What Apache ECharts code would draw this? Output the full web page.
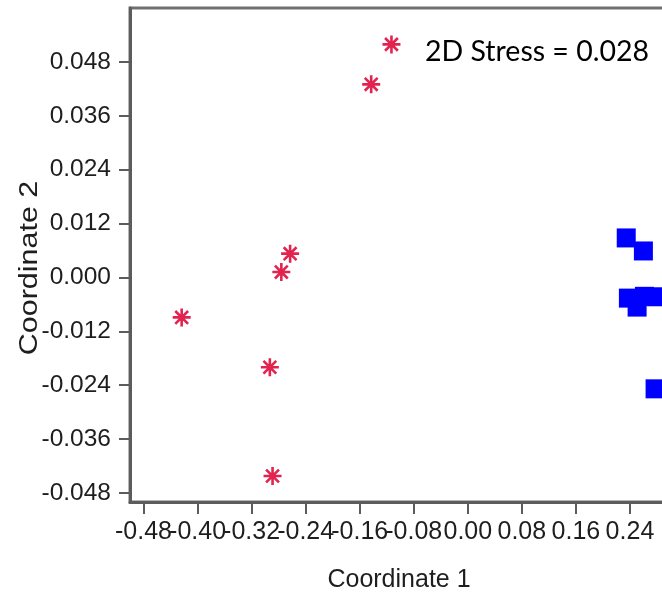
<!DOCTYPE html>
<html>
<head>
<meta charset="utf-8">
<script src="https://cdn.jsdelivr.net/npm/echarts@6/dist/echarts.min.js"></script>
<style>html,body{margin:0;padding:0;background:#fff;}#c{width:662px;height:596px;}</style>
</head>
<body>
<div id="c"></div>
<script>
// Group 1 (red asterisks)
const starX = [-0.113, -0.143, -0.263, -0.276, -0.4235, -0.293, -0.289];
const starY = [0.0519, 0.0430, 0.0053, 0.0012, -0.0089, -0.0200, -0.0442];
// Group 2 (blue squares)
const squareX = [0.2345, 0.2599, 0.2377, 0.2506, 0.2614, 0.279, 0.2772];
const squareY = [0.0088, 0.0059, -0.0046, -0.0066, -0.0042, -0.0043, -0.0248];
// Tick values
const xTicks = [-0.48, -0.40, -0.32, -0.24, -0.16, -0.08, 0.00, 0.08, 0.16, 0.24];
const yTicks = [-0.048, -0.036, -0.024, -0.012, 0.000, 0.012, 0.024, 0.036, 0.048];
const xTitle = 'Coordinate 1';
const yTitle = 'Coordinate 2';
const stressText = '2D Stress = 0.028';

// the overlapping x labels are split over two stacked axes so none is hidden
const xTicksA = xTicks.filter((v, i) => i % 2 === 0);
const xTicksB = xTicks.filter((v, i) => i % 2 === 1);

const asterisk = 'path://M1 8.7 L19 8.7 L19 11.3 L1 11.3 Z M8.7 1 L11.3 1 L11.3 19 L8.7 19 Z M4.52 2.68 L17.32 15.48 L15.48 17.32 L2.68 4.52 Z M15.48 2.68 L17.32 4.52 L4.52 17.32 L2.68 15.48 Z';

const chart = echarts.init(document.getElementById('c'), null, {renderer: 'canvas'});
const axisColor = '#5c5c5c';
const labelFont = 'Liberation Sans, Arial, Helvetica, sans-serif';

function xAxisOf(ticks, withLine) {
  return {
    type: 'value', min: -0.5, max: 0.32, position: 'bottom', offset: 0,
    splitLine: {show: false},
    axisLine: {show: withLine, onZero: false, lineStyle: {color: axisColor, width: 3}},
    axisTick: {show: true, length: 12, customValues: ticks, lineStyle: {color: axisColor, width: 2}},
    axisLabel: {customValues: ticks, hideOverlap: false, showMinLabel: true, showMaxLabel: true, margin: 18, fontSize: 25,
      color: '#1e1e1e', fontFamily: labelFont, formatter: v => v.toFixed(2)},
    name: withLine ? xTitle : '', nameLocation: 'middle', nameGap: 66,
    nameTextStyle: {fontSize: 25, color: '#1e1e1e', fontFamily: labelFont, padding: [0, 16, 0, 0]}
  };
}

chart.setOption({
  animation: false,
  backgroundColor: '#fff',
  grid: {left: 130, top: 8, right: -22, bottom: 94, containLabel: false, outerBoundsMode: 'none',
    show: true, borderColor: '#707070', borderWidth: 3, backgroundColor: 'transparent'},
  xAxis: [xAxisOf(xTicksA, true), xAxisOf(xTicksB, false)],
  yAxis: {
    type: 'value', min: -0.05, max: 0.06,
    splitLine: {show: false},
    axisLine: {show: true, onZero: false, lineStyle: {color: axisColor, width: 3}},
    axisTick: {show: true, length: 11, customValues: yTicks, lineStyle: {color: axisColor, width: 2}},
    axisLabel: {customValues: yTicks, hideOverlap: false, showMinLabel: true, showMaxLabel: true, margin: 19, fontSize: 24.5, color: '#1e1e1e', fontFamily: labelFont,
      formatter: v => v.toFixed(3)}
  },
  graphic: [
    {type: 'text', x: 425, y: 52, style: {text: stressText, fontSize: 28.5, fontFamily: 'Lato, Open Sans, sans-serif', fill: '#000', align: 'left', verticalAlign: 'middle'}},
    {type: 'text', x: 30, y: 268, rotation: Math.PI / 2, scaleX: 1.22, style: {text: yTitle, fontSize: 25, fontFamily: labelFont, fill: '#1e1e1e', align: 'center', verticalAlign: 'middle'}}
  ],
  series: [
    {type: 'scatter', xAxisIndex: 0, symbol: asterisk, symbolSize: 18, symbolKeepAspect: true,
      itemStyle: {color: '#e3234f', opacity: 1},
      data: starX.map((x, i) => [x, starY[i]])},
    {type: 'scatter', xAxisIndex: 0, symbol: 'rect', symbolSize: 19,
      itemStyle: {color: '#0000ff', opacity: 1},
      data: squareX.map((x, i) => [x, squareY[i]])}
  ]
});
</script>
</body>
</html>
